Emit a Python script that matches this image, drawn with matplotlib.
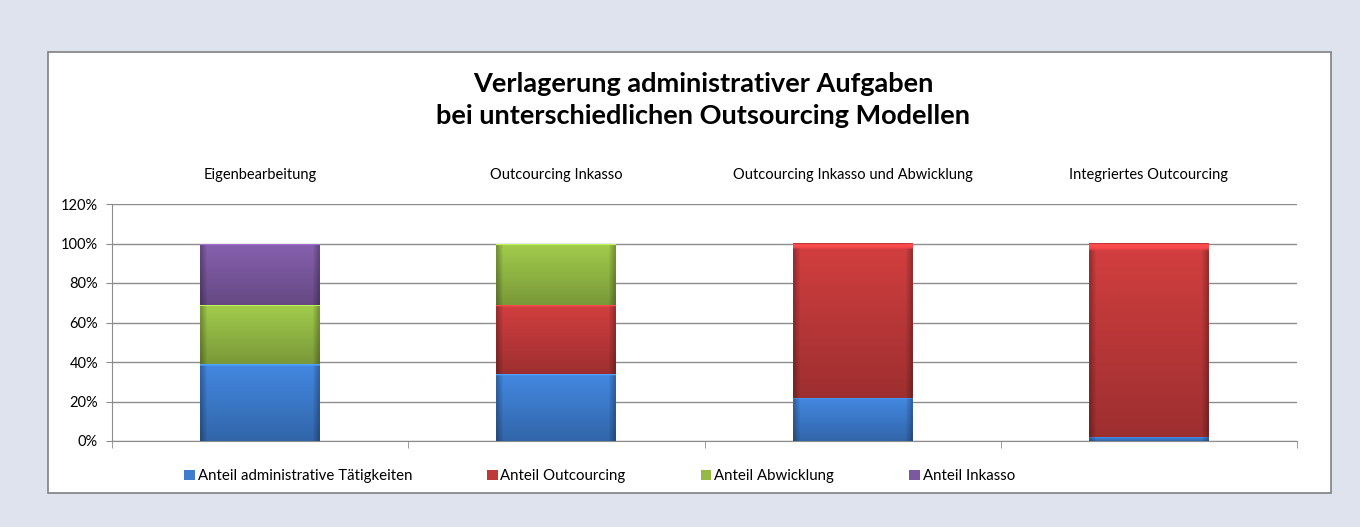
import matplotlib.pyplot as plt
from matplotlib.patches import Rectangle
from matplotlib.colors import to_rgb
import numpy as np

plt.rcParams['font.family'] = ['Lato', 'DejaVu Sans']

categories = ['Eigenbearbeitung', 'Outcourcing Inkasso',
              'Outcourcing Inkasso und Abwicklung', 'Integriertes Outcourcing']
series = ['Anteil administrative Tätigkeiten', 'Anteil Outcourcing',
          'Anteil Abwicklung', 'Anteil Inkasso']
admin = [39, 34, 22, 2]
outsourcing = [0, 35, 78, 98]
abwicklung = [30, 31, 0, 0]
inkasso = [31, 0, 0, 0]
colors = ['#3d7cce', '#c0393a', '#94ba45', '#7b589f']


def shade(color, nrow=60, ncol=40):
    # glassy look: lighter top, darker bottom, darker side edges
    base = np.array(to_rgb(color))
    v = np.linspace(1.1, 0.82, nrow)[:, None]
    u = np.linspace(0, 1, ncol)
    h = 1 - 0.25 * np.clip(1 - np.minimum(u, 1 - u) / 0.05, 0, 1)
    img = base[None, None, :] * v[:, :, None] * h[None, :, None]
    img[:2] = np.clip(base * 1.3, 0, 1)
    return np.clip(img, 0, 1)


fig = plt.figure(figsize=(13.6, 5.27), dpi=100)
fig.patch.set_facecolor('#dfe3ee')

# white chart box behind everything
fig.patches.append(Rectangle((48/1360, 1-493/527), (1331-48)/1360, (493-52)/527,
                             transform=fig.transFigure, facecolor='white',
                             edgecolor='#808080', linewidth=1.2, zorder=-5))

ax = fig.add_axes([112/1360, 1-441/527, (1297-112)/1360, (441-204)/527])
ax.set_facecolor('white')
ax.set_zorder(2)

x = np.arange(len(categories))
w = 0.405
bottom = np.zeros(len(categories))
for vals, c, name in zip([admin, outsourcing, abwicklung, inkasso], colors, series):
    vals = np.array(vals, dtype=float)
    bars = ax.bar(x, vals, w, bottom=bottom, color=c, edgecolor='none',
                  label=name, zorder=3)
    for p in bars:
        if p.get_height() <= 0:
            continue
        im = ax.imshow(shade(c), extent=(p.get_x(), p.get_x() + p.get_width(),
                                         p.get_y(), p.get_y() + p.get_height()),
                       aspect='auto', zorder=3.5, interpolation='bilinear')
        im.set_clip_path(p)
    bottom += vals

ax.set_xlim(-0.5, len(categories) - 0.5)
ax.set_ylim(0, 120)
ax.set_yticks(range(0, 121, 20))
ax.set_yticklabels([f'{v}%' for v in range(0, 121, 20)], fontsize=10.5)
ax.yaxis.grid(True, color='#8c8c8c', linewidth=1.0, zorder=0)
ax.set_axisbelow(True)
ax.tick_params(axis='y', length=4, color='#8c8c8c', pad=6)

ax.set_xticks(x)
ax.set_xticklabels(categories, fontsize=10.5)
ax.tick_params(axis='x', which='major', top=True, labeltop=True, bottom=False,
               labelbottom=False, length=0, pad=16)
ax.set_xticks(np.arange(-0.5, len(categories), 1), minor=True)
ax.tick_params(axis='x', which='minor', bottom=True, length=5, color='#8c8c8c')

for s in ['top', 'right']:
    ax.spines[s].set_visible(False)
for s in ['left', 'bottom']:
    ax.spines[s].set_color('#8c8c8c')

fig.text(0.517, 1-100/527,
         'Verlagerung administrativer Aufgaben\nbei unterschiedlichen Outsourcing Modellen',
         ha='center', va='center', fontsize=19.5, fontweight='bold', linespacing=1.45)

handles, labels = ax.get_legend_handles_labels()
fig.legend(handles, labels, loc='center left', bbox_to_anchor=(178/1360, 1-476/527),
           ncol=4, frameon=False, fontsize=10.8, handlelength=0.7, handleheight=0.7,
           handletextpad=0.2, columnspacing=5.0, borderaxespad=0)

fig.savefig('out.png', dpi=100, facecolor=fig.get_facecolor())
